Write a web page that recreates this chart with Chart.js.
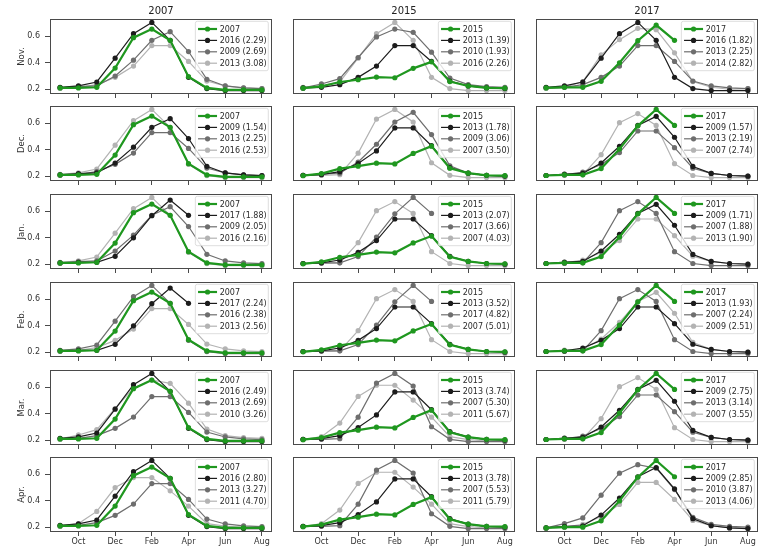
<!DOCTYPE html>
<html>
<head>
<meta charset="utf-8">
<script src="https://cdn.jsdelivr.net/npm/chart.js@4.4.1/dist/chart.umd.min.js"></script>
<style>
body { margin: 0; background: #fff; }
#wrap { position: relative; width: 760px; height: 547px; overflow: hidden; }
canvas { position: absolute; }
</style>
</head>
<body>
<div id="wrap"></div>
<script>
const months = ['Sep', 'Oct', 'Nov', 'Dec', 'Jan', 'Feb', 'Mar', 'Apr', 'May', 'Jun', 'Jul', 'Aug'];
const tickIdx = [1, 3, 5, 7, 9, 11];
const colYears = ['2007', '2015', '2017'];
const rowLabels = ['Nov.', 'Dec.', 'Jan.', 'Feb.', 'Mar.', 'Apr.'];

// one curve per season, Sep..Aug (2017 stops in Apr)
const y2007 = [0.21, 0.21, 0.215, 0.36, 0.59, 0.655, 0.57, 0.295, 0.21, 0.195, 0.195, 0.195];
const y2009 = [0.21, 0.22, 0.225, 0.30, 0.42, 0.57, 0.635, 0.485, 0.275, 0.225, 0.21, 0.205];
const y2010 = [0.21, 0.24, 0.28, 0.44, 0.595, 0.655, 0.63, 0.48, 0.285, 0.235, 0.22, 0.215];
const y2011 = [0.208, 0.228, 0.32, 0.50, 0.575, 0.575, 0.475, 0.36, 0.228, 0.208, 0.20, 0.20];
const y2013 = [0.21, 0.215, 0.235, 0.29, 0.375, 0.53, 0.53, 0.41, 0.262, 0.225, 0.21, 0.205];
const y2014 = [0.21, 0.215, 0.258, 0.46, 0.575, 0.66, 0.65, 0.475, 0.258, 0.215, 0.20, 0.205];
const y2015 = [0.208, 0.222, 0.255, 0.272, 0.292, 0.287, 0.358, 0.407, 0.258, 0.225, 0.21, 0.208];
const y2016 = [0.215, 0.225, 0.255, 0.435, 0.62, 0.705, 0.57, 0.29, 0.205, 0.19, 0.19, 0.19];
const y2017 = [0.21, 0.215, 0.215, 0.26, 0.40, 0.567, 0.685, 0.57];

const curves = {
	'2007': y2007, '2009': y2009, '2010': y2010, '2011': y2011, '2013': y2013,
	'2014': y2014, '2015': y2015, '2016': y2016, '2017': y2017
};

// analog years and distances, one line per row (Nov..Apr)
const analogs2007 = [['2016', '2009', '2013'], ['2009', '2013', '2016'], ['2017', '2009', '2016'], ['2017', '2016', '2013'], ['2016', '2013', '2010'], ['2016', '2013', '2011']];
const dist2007 = [['2.29', '2.69', '3.08'], ['1.54', '2.25', '2.53'], ['1.88', '2.05', '2.16'], ['2.24', '2.38', '2.56'], ['2.49', '2.69', '3.26'], ['2.80', '3.27', '4.70']];
const analogs2015 = [['2013', '2010', '2016'], ['2013', '2009', '2007'], ['2013', '2017', '2007'], ['2013', '2017', '2007'], ['2013', '2007', '2011'], ['2013', '2007', '2011']];
const dist2015 = [['1.39', '1.93', '2.26'], ['1.78', '3.06', '3.50'], ['2.07', '3.66', '4.03'], ['3.52', '4.82', '5.01'], ['3.74', '5.30', '5.67'], ['3.78', '5.53', '5.79']];
const analogs2017 = [['2016', '2013', '2014'], ['2009', '2013', '2007'], ['2009', '2007', '2013'], ['2013', '2007', '2009'], ['2009', '2013', '2007'], ['2009', '2010', '2013']];
const dist2017 = [['1.82', '2.25', '2.82'], ['1.57', '2.19', '2.74'], ['1.71', '1.88', '1.90'], ['1.93', '2.24', '2.51'], ['2.75', '3.14', '3.55'], ['2.85', '3.87', '4.06']];

const analogs = [analogs2007, analogs2015, analogs2017];
const dists = [dist2007, dist2015, dist2017];

const greenColor = '#1f971f';
const greyColors = ['#1c1c1c', '#6e6e6e', '#b3b3b3'];

const plotLefts = [50, 293, 536];
const plotTops = [19, 106, 194, 282, 370, 457];
const plotW = 226, plotH = 75;
const axisW = 50, topH = 20, bottomH = 20;

Chart.defaults.font.family = 'DejaVu Sans';
Chart.defaults.color = '#333';

// frame round the axes + the small key in the upper right corner
const frameAndKey = {
	id: 'frameAndKey',
	afterDraw(chart) {
		const ctx = chart.ctx;
		const a = chart.chartArea;
		ctx.save();
		ctx.strokeStyle = '#4a4a4a';
		ctx.lineWidth = 1;
		ctx.strokeRect(a.left + 0.5, a.top + 0.5, a.width - 1, a.height - 1);

		const sets = chart.data.datasets;
		ctx.font = '8px "DejaVu Sans"';
		const tw = Math.max(...sets.map(d => ctx.measureText(d.label).width));
		const w = tw + 26, h = 49.4;
		const x0 = a.right - 3.7 - w, y0 = a.top + 2.3;
		ctx.beginPath();
		ctx.roundRect(x0, y0, w, h, 2);
		ctx.fillStyle = 'rgba(255,255,255,0.8)';
		ctx.fill();
		ctx.strokeStyle = '#d4d4d4';
		ctx.lineWidth = 0.8;
		ctx.stroke();

		sets.forEach((d, i) => {
			const cy = y0 + 7.7 + i * 11.4;
			ctx.strokeStyle = d.borderColor;
			ctx.lineWidth = d.borderWidth;
			ctx.beginPath();
			ctx.moveTo(x0 + 2.7, cy);
			ctx.lineTo(x0 + 21.7, cy);
			ctx.stroke();
			ctx.fillStyle = d.borderColor;
			ctx.beginPath();
			ctx.arc(x0 + 12.2, cy, d.pointRadius, 0, Math.PI * 2);
			ctx.fill();
			ctx.fillStyle = '#2a2a2a';
			ctx.textBaseline = 'middle';
			ctx.fillText(d.label, x0 + 24.3, cy + 0.5);
		});
		ctx.restore();
	}
};

const toPoints = vals => vals.map((v, i) => ({ x: i, y: v }));

function makePanel(r, c) {
	const canvas = document.createElement('canvas');
	canvas.width = axisW + plotW;
	canvas.height = topH + plotH + bottomH;
	canvas.style.left = (plotLefts[c] - axisW) + 'px';
	canvas.style.top = (plotTops[r] - topH) + 'px';
	document.getElementById('wrap').appendChild(canvas);

	const target = colYears[c];
	const datasets = [{
		label: target,
		data: toPoints(curves[target]),
		borderColor: greenColor,
		backgroundColor: greenColor,
		borderWidth: 2.2,
		pointRadius: 2.6,
		pointBorderWidth: 0
	}];
	analogs[c][r].forEach((yr, k) => {
		datasets.push({
			label: yr + ' (' + dists[c][r][k] + ')',
			data: toPoints(curves[yr]),
			borderColor: greyColors[k],
			backgroundColor: greyColors[k],
			borderWidth: 1.2,
			pointRadius: 2.6,
			pointBorderWidth: 0
		});
	});

	// every panel is scaled on its own data, with a 5% margin
	const all = datasets.flatMap(d => d.data.map(p => p.y));
	const lo = Math.min(...all), hi = Math.max(...all);
	const pad = (hi - lo) * 0.05;

	new Chart(canvas.getContext('2d'), {
		type: 'line',
		data: { datasets: datasets },
		options: {
			responsive: false,
			animation: false,
			events: [],
			layout: { padding: 0 },
			elements: { line: { tension: 0 } },
			plugins: {
				legend: { display: false },
				tooltip: { enabled: false },
				title: {
					display: true,
					fullSize: false,
					text: r === 0 ? target : '',
					color: '#222',
					font: { size: 10, weight: 'normal', lineHeight: '12px' },
					padding: { top: 6, bottom: 2 }
				}
			},
			scales: {
				x: {
					type: 'linear',
					min: -0.55,
					max: 11.55,
					afterBuildTicks: s => { s.ticks = tickIdx.map(v => ({ value: v })); },
					afterFit: s => { s.height = bottomH; },
					ticks: {
						display: r === 5,
						autoSkip: false,
						maxRotation: 0,
						padding: 1,
						font: { size: 8 },
						callback: v => months[v]
					},
					grid: { display: true, drawOnChartArea: false, drawTicks: true, tickLength: 4, color: '#4a4a4a' },
					border: { display: false }
				},
				y: {
					min: lo - pad,
					max: hi + pad,
					afterBuildTicks: s => { s.ticks = [0.2, 0.4, 0.6].map(v => ({ value: v })); },
					afterFit: s => { s.width = axisW; },
					ticks: {
						display: c === 0,
						padding: 5,
						font: { size: 8 },
						callback: v => v.toFixed(1)
					},
					grid: { display: c === 0, drawOnChartArea: false, drawTicks: true, tickLength: 5, color: '#4a4a4a' },
					border: { display: false },
					title: {
						display: c === 0,
						text: rowLabels[r],
						color: '#333',
						font: { size: 8.5 },
						padding: { top: 16.6, bottom: 0 }
					}
				}
			}
		},
		plugins: [frameAndKey]
	});
}

for (let r = 0; r < 6; r++) {
	for (let c = 0; c < 3; c++) {
		makePanel(r, c);
	}
}
</script>
</body>
</html>
